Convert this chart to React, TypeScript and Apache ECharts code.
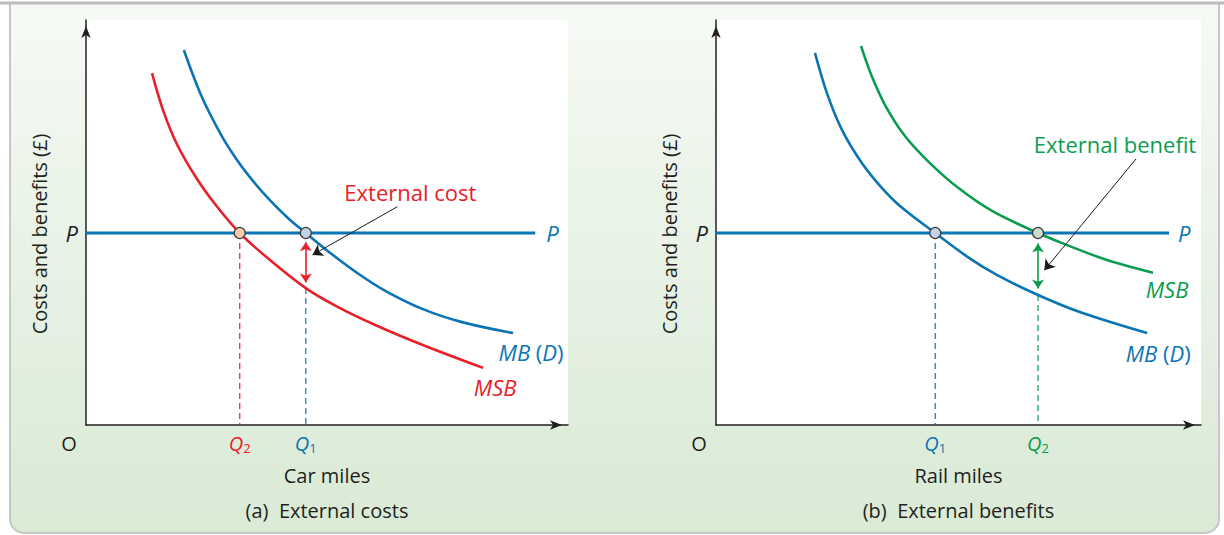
import React, { useEffect, useRef } from "react";
import * as echarts from "echarts";

// ---------- data (abstract units, 0–100 on both axes) ----------
const priceLevel = 47.4;

// (a) Car miles – external costs
const carMB: number[][] = [
  [20.3, 92.6], [24.0, 81.1], [28.0, 71.7], [31.0, 66.0], [34.0, 61.2], [38.0, 55.7],
  [42.0, 51.0], [45.6, 47.4], [50.0, 43.1], [56.2, 37.6], [62.0, 33.2], [69.9, 28.6],
  [78.0, 25.4], [88.6, 22.7],
];
const carMSB: number[][] = [
  [13.7, 86.9], [16.0, 77.7], [19.0, 69.0], [23.0, 60.8], [27.0, 54.2], [31.9, 47.4],
  [38.0, 40.9], [45.6, 33.8], [52.0, 29.3], [60.0, 24.7], [70.0, 19.7], [82.4, 14.1],
];
const carQ2 = 31.9;
const carQ1 = 45.6;
const carMSBatQ1 = 33.8;
const carPEnd = 93.2;
const carCostArrow: number[][] = [[45.6, 45.1], [45.6, 35.2]];
const carPointer: number[][] = [[64.6, 53.9], [47.0, 42.0]];

// (b) Rail miles – external benefits
const railMB: number[][] = [
  [20.4, 91.9], [23.0, 81.5], [26.0, 72.8], [30.0, 64.8], [34.0, 58.8], [38.0, 54.0],
  [45.2, 47.4], [52.0, 41.4], [58.0, 37.0], [66.4, 32.1], [75.0, 27.9], [88.9, 22.7],
];
const railMSB: number[][] = [
  [29.9, 93.6], [32.0, 86.5], [35.0, 78.7], [39.0, 71.3], [44.0, 64.8], [50.0, 58.5],
  [57.0, 52.8], [66.4, 47.4], [72.0, 44.6], [80.0, 41.0], [90.1, 37.6],
];
const railQ1 = 45.2;
const railQ2 = 66.4;
const railMBatQ2 = 32.1;
const railPEnd = 93.4;
const railBenefitArrow: number[][] = [[66.4, 44.8], [66.4, 33.7]];
const railPointer: number[][] = [[86.6, 65.7], [67.7, 38.2]];

// texts
const axisNames = ["Car miles", "Rail miles"];
const panelTitles = ["(a)  External costs", "(b)  External benefits"];
const yTitle = "Costs and benefits (£)";
const annotations = ["External cost", "External benefit"];

// ---------- styling ----------
const FONT = "'Open Sans', 'Noto Sans', 'DejaVu Sans', sans-serif";
const BLUE = "#0b74b4";
const RED = "#e8202a";
const GREEN = "#0a9d4f";
const INK = "#231f20";

export default function App() {
  const ref = useRef<HTMLDivElement>(null);

  useEffect(() => {
    const el = ref.current;
    if (!el) return;
    const chart = echarts.init(el, null, { renderer: "svg" });

    const grids = [
      { left: 86, top: 20, width: 482, height: 405 },
      { left: 716, top: 20, width: 485, height: 405 },
    ];

    const qRich = (color: string) => ({
      q: { fontFamily: FONT, fontStyle: "italic", fontSize: 20, lineHeight: 22, color },
      s: { fontFamily: FONT, fontSize: 13, lineHeight: 10, verticalAlign: "bottom", color },
    });

    const makeX = (gi: number, qs: number[], subs: string[], colors: string[]) => {
      const rich: any = {};
      colors.forEach((c, i) => {
        const r = qRich(c);
        rich["q" + i] = r.q;
        rich["s" + i] = r.s;
      });
      return {
        gridIndex: gi,
        type: "value",
        min: 0,
        max: 100,
        name: axisNames[gi],
        nameLocation: "middle",
        nameGap: 40,
        nameTextStyle: { fontFamily: FONT, fontSize: 20, color: INK },
        axisLine: {
          show: true,
          symbol: ["none", "arrow"],
          symbolSize: [7, 12],
          symbolOffset: [0, -6],
          lineStyle: { color: INK, width: 1.5 },
        },
        axisTick: { show: false },
        splitLine: { show: false },
        axisLabel: {
          show: true,
          customValues: qs,
          margin: 7,
          formatter: (v: number) => {
            const i = qs.findIndex((q) => Math.abs(q - v) < 1e-6);
            return i < 0 ? "" : `{q${i}|Q}{s${i}|${subs[i]}}`;
          },
          rich,
        },
      };
    };

    const makeY = (gi: number) => ({
      gridIndex: gi,
      type: "value",
      min: 0,
      max: 100,
      axisLine: {
        show: true,
        symbol: ["none", "arrow"],
        symbolSize: [7, 12],
        symbolOffset: [0, -6],
        lineStyle: { color: INK, width: 1.5 },
      },
      axisTick: { show: false },
      splitLine: { show: false },
      axisLabel: {
        show: true,
        customValues: [priceLevel],
        formatter: () => "P",
        margin: 8,
        fontFamily: FONT,
        fontStyle: "italic",
        fontSize: 22,
        color: INK,
      },
    });

    const curve = (gi: number, data: number[][], color: string) => ({
      type: "line",
      xAxisIndex: gi,
      yAxisIndex: gi,
      data,
      smooth: 0.35,
      symbol: "none",
      silent: true,
      lineStyle: { color, width: 2.6 },
      z: 4,
    });
    const straight = (gi: number, data: number[][], color: string, width: number, dashed: boolean) => ({
      type: "line",
      xAxisIndex: gi,
      yAxisIndex: gi,
      data,
      smooth: false,
      symbol: "none",
      silent: true,
      lineStyle: { color, width, type: dashed ? [6, 4] : "solid" },
      z: dashed ? 2 : 3,
    });
    const dots = (gi: number, pts: number[][], fills: string[]) => ({
      type: "scatter",
      xAxisIndex: gi,
      yAxisIndex: gi,
      symbolSize: 11,
      silent: true,
      data: pts.map((p, i) => ({ value: p, itemStyle: { color: fills[i] } })),
      itemStyle: { borderColor: "#3a3a3a", borderWidth: 1.2, opacity: 1 },
      z: 10,
    });
    const arrow = (gi: number, coords: number[][], color: string, width: number, both: boolean) => ({
      type: "lines",
      coordinateSystem: "cartesian2d",
      xAxisIndex: gi,
      yAxisIndex: gi,
      symbol: both ? ["arrow", "arrow"] : ["none", "arrow"],
      symbolSize: both ? 9 : 10,
      silent: true,
      lineStyle: { color, width, opacity: 1, curveness: 0 },
      data: [{ coords }],
      z: 8,
    });

    const option: any = {
      animation: false,
      textStyle: { fontFamily: FONT },
      grid: grids.map((g) => ({ ...g, show: true, backgroundColor: "#ffffff", borderWidth: 0, z: 0 })),
      xAxis: [
        makeX(0, [carQ2, carQ1], ["2", "1"], [RED, BLUE]),
        makeX(1, [railQ1, railQ2], ["1", "2"], [BLUE, GREEN]),
      ],
      yAxis: [makeY(0), makeY(1)],
      series: [
        // panel (a)
        straight(0, [[carQ2, priceLevel], [carQ2, 0]], RED, 1.2, true),
        straight(0, [[carQ1, carMSBatQ1], [carQ1, 0]], BLUE, 1.2, true),
        straight(0, [[0, priceLevel], [carPEnd, priceLevel]], BLUE, 3, false),
        curve(0, carMSB, RED),
        curve(0, carMB, BLUE),
        arrow(0, carCostArrow, RED, 1.6, true),
        arrow(0, carPointer, "#1a1a1a", 1, false),
        dots(0, [[carQ2, priceLevel], [carQ1, priceLevel]], ["#f8ccb2", "#c3d3e6"]),
        // panel (b)
        straight(1, [[railQ1, priceLevel], [railQ1, 0]], BLUE, 1.2, true),
        straight(1, [[railQ2, railMBatQ2], [railQ2, 0]], GREEN, 1.2, true),
        straight(1, [[0, priceLevel], [railPEnd, priceLevel]], BLUE, 3, false),
        curve(1, railMSB, GREEN),
        curve(1, railMB, BLUE),
        arrow(1, railBenefitArrow, GREEN, 1.6, true),
        arrow(1, railPointer, "#1a1a1a", 1, false),
        dots(1, [[railQ1, priceLevel], [railQ2, priceLevel]], ["#c3d3e6", "#c8ddc8"]),
      ],
    };
    chart.setOption(option);

    const pt = (gi: number, p: number[]) => chart.convertToPixel({ gridIndex: gi } as any, p) as number[];
    const text = (x: number, y: number, t: string, extra: any = {}, z = 50) => ({
      type: "text",
      x,
      y,
      z,
      silent: true,
      style: {
        text: t,
        fontFamily: FONT,
        fontSize: 20,
        fill: INK,
        align: "center",
        verticalAlign: "middle",
        textAlign: "center",
        textVerticalAlign: "middle",
        ...extra,
      },
    });
    const mbRich = (color: string) => ({
      rich: {
        i: { fontFamily: FONT, fontStyle: "italic", fontSize: 22, fill: color, color },
        u: { fontFamily: FONT, fontStyle: "normal", fontSize: 22, fill: color, color },
      },
    });

    const graphics: any[] = [];
    // frame and background
    graphics.push({
      type: "rect",
      z: -100,
      silent: true,
      shape: { x: 10, y: 3, width: 1209, height: 530, r: [0, 0, 14, 14] },
      style: {
        fill: new echarts.graphic.LinearGradient(0, 0, 0, 1, [
          { offset: 0, color: "#f6faf5" },
          { offset: 1, color: "#d9ead5" },
        ]),
        stroke: "#c6c6c6",
        lineWidth: 2,
      },
    });
    graphics.push({
      type: "line",
      z: -99,
      silent: true,
      shape: { x1: 0, y1: 3, x2: 1224, y2: 3 },
      style: { stroke: "#bcbcbc", lineWidth: 3 },
    });

    [0, 1].forEach((gi) => {
      const o = pt(gi, [0, 0]);
      const mid = pt(gi, [50, 0]);
      graphics.push(text(o[0] - 17, o[1] + 18, "O"));
      graphics.push(text(o[0] - 47, 234, yTitle, {}, 50));
      graphics[graphics.length - 1].rotation = Math.PI / 2;
      graphics.push(text(mid[0], 510, panelTitles[gi]));
    });

    // right-hand P labels
    const pa = pt(0, [carPEnd, priceLevel]);
    const pb = pt(1, [railPEnd, priceLevel]);
    graphics.push(text(pa[0] + 11, pa[1], "P", { fill: BLUE, fontStyle: "italic", fontSize: 22, align: "left", textAlign: "left" }));
    graphics.push(text(pb[0] + 9, pb[1], "P", { fill: BLUE, fontStyle: "italic", fontSize: 22, align: "left", textAlign: "left" }));

    // curve labels
    const aMB = pt(0, carMB[carMB.length - 1]);
    const aMSB = pt(0, carMSB[carMSB.length - 1]);
    const bMB = pt(1, railMB[railMB.length - 1]);
    const bMSB = pt(1, railMSB[railMSB.length - 1]);
    graphics.push(text(aMB[0] + 18, aMB[1] + 19, "{i|MB} {u|(}{i|D}{u|)}", { fill: BLUE, fontSize: 22, ...mbRich(BLUE) }));
    graphics.push(text(aMSB[0] + 12, aMSB[1] + 19, "MSB", { fill: RED, fontStyle: "italic", fontSize: 22 }));
    graphics.push(text(bMSB[0] + 14, bMSB[1] + 16, "MSB", { fill: GREEN, fontStyle: "italic", fontSize: 22 }));
    graphics.push(text(bMB[0] + 11, bMB[1] + 20, "{i|MB} {u|(}{i|D}{u|)}", { fill: BLUE, fontSize: 22, ...mbRich(BLUE) }));

    // annotations
    const ca = pt(0, carPointer[0]);
    const cb = pt(1, railPointer[0]);
    graphics.push(text(ca[0] + 13, ca[1] - 15, annotations[0], { fill: RED, fontSize: 22 }));
    graphics.push(text(cb[0] - 21, cb[1] - 15, annotations[1], { fill: GREEN, fontSize: 22 }));

    chart.setOption({ graphic: graphics });

    return () => chart.dispose();
  }, []);

  return (
    <div
      ref={ref}
      style={{ position: "absolute", left: 0, top: 0, width: 1224, height: 535, background: "#ffffff" }}
    />
  );
}
